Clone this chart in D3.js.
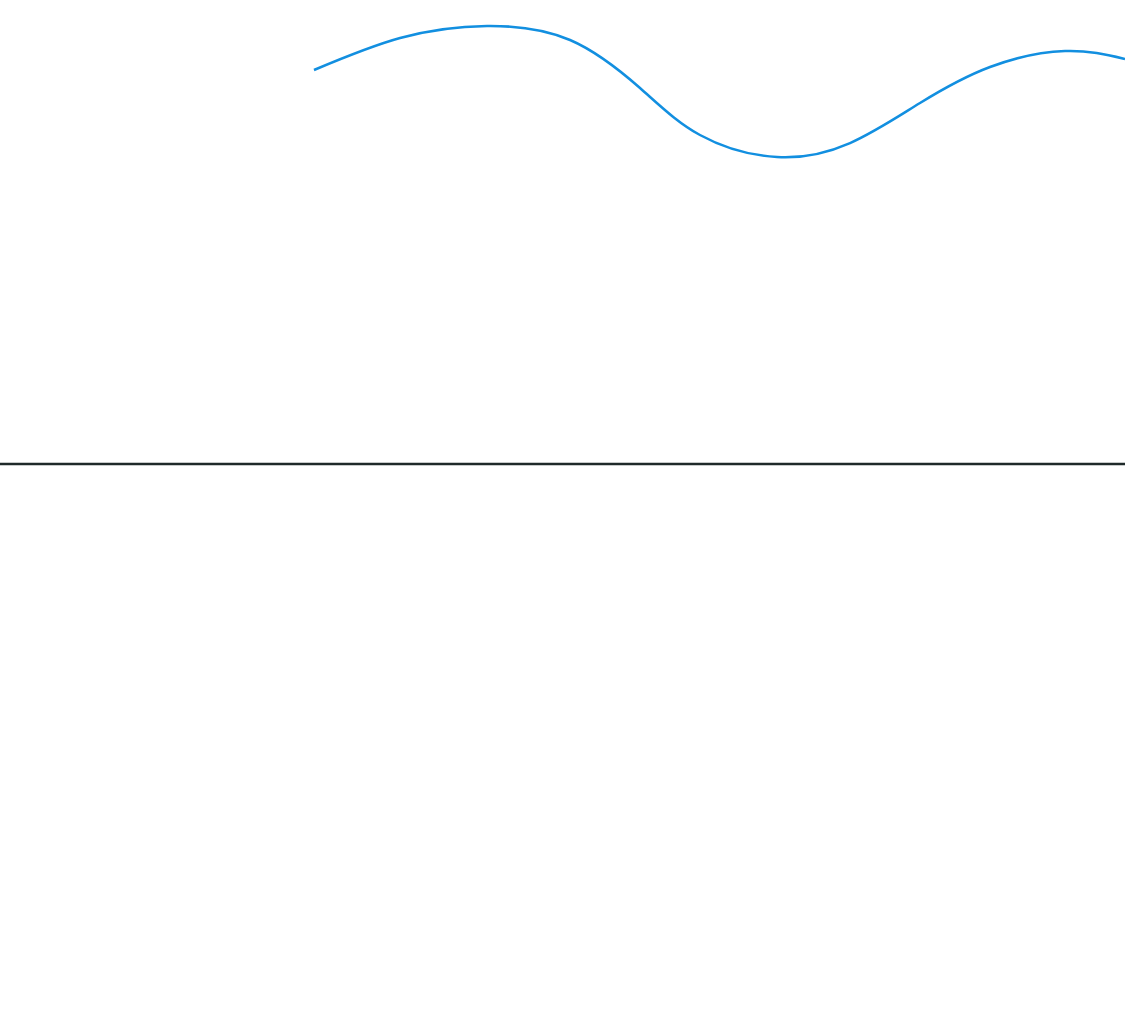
<!DOCTYPE html>
<html>
<head>
<meta charset="utf-8">
<script src="https://cdn.jsdelivr.net/npm/d3@7"></script>
<style>
  html, body { margin: 0; padding: 0; background: #fff; overflow: hidden; }
</style>
</head>
<body>
<svg class="chart"></svg>
<script>
// positions along the track (0-100) and level readings (0-100)
var xValues = [27.91, 35.56, 43.29, 50.67, 56.89, 62.22, 69.07, 75.56, 81.78, 88.00, 94.67, 100];
var yValues = [89.55, 96.82, 99.55, 96.36, 85.45, 74.77, 69.77, 72.95, 82.05, 90.23, 93.86, 92.05];
var baseValue = [0];

var width = 1125, height = 1014;

var chart = d3.select(".chart").attr("width", width).attr("height", height);

var x = d3.scaleLinear().domain([0, 100]).range([0, width]);
var y = d3.scaleLinear().domain([0, 100]).range([464, 24]);

var data = xValues.map(function(v, i){
  return {x: v, y: yValues[i]};
});

// the baseline
chart.selectAll(".base")
  .data(baseValue)
  .enter().append("line")
  .attr("class", "base")
  .attr("x1", x(0))
  .attr("x2", x(100))
  .attr("y1", function(d){ return y(d); })
  .attr("y2", function(d){ return y(d); })
  .attr("stroke", "#1f2a2a")
  .attr("stroke-width", 2.5);

// the curve
var line = d3.line()
  .x(function(d){ return x(d.x); })
  .y(function(d){ return y(d.y); })
  .curve(d3.curveNatural);

chart.append("path")
  .datum(data)
  .attr("d", line)
  .attr("fill", "none")
  .attr("stroke", "#128fe0")
  .attr("stroke-width", 2.5);
</script>
</body>
</html>
